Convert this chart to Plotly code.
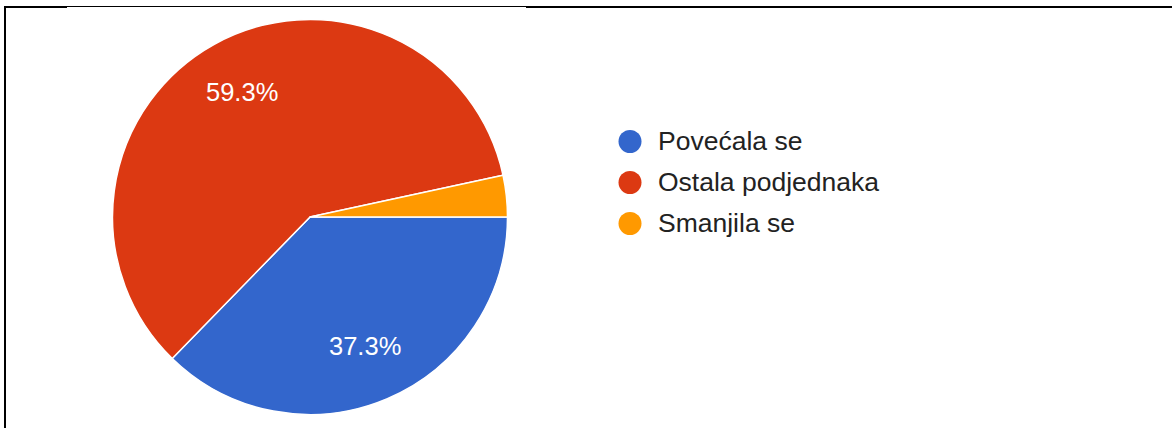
import math
import plotly.graph_objects as go

labels = ["Povećala se", "Ostala podjednaka", "Smanjila se"]
counts = [22, 35, 2]
colors = ["#3366CC", "#DC3912", "#FF9900"]
min_label_share = 0.05  # slices smaller than this get no percentage label

W, H = 1172, 428
CX, CY, R = 310, 217, 197.5
FONT = "Arial, Liberation Sans"


def px(x):
    return x / W


def py(y):
    return 1 - y / H


fig = go.Figure()
fig.add_trace(go.Pie(
    labels=labels,
    values=counts,
    marker=dict(colors=colors, line=dict(color="white", width=1.5)),
    sort=False,
    direction="clockwise",
    rotation=90,
    textinfo="none",
    showlegend=False,
    hoverinfo="label+percent",
    domain=dict(x=[px(CX - R), px(CX + R)], y=[py(CY + R), py(CY - R)]),
))

shapes = []
annotations = []

# percentage labels placed along each slice's bisector (computed from the data)
total = sum(counts)
cum = 0
for v in counts:
    share = v / total
    mid = (cum + v / 2) / total
    cum += v
    if share < min_label_share:
        continue
    ang = math.radians(mid * 360)  # clockwise from 3 o'clock
    lx = CX + 0.715 * R * math.cos(ang)
    ly = CY + 0.715 * R * math.sin(ang) - 1
    annotations.append(dict(text=f"{share * 100:.1f}%", xref="paper", yref="paper",
                            x=px(lx), y=py(ly), xanchor="center", yanchor="middle",
                            showarrow=False,
                            font=dict(size=25.5, color="white", family=FONT)))

# custom legend with round markers
legend_x, legend_y0, legend_step = 630, 141.5, 41
for i, (lab, col) in enumerate(zip(labels, colors)):
    cy = legend_y0 + i * legend_step
    r = 11.5
    shapes.append(dict(type="circle", xref="paper", yref="paper",
                       x0=px(legend_x - r), x1=px(legend_x + r),
                       y0=py(cy + r), y1=py(cy - r),
                       fillcolor=col, line=dict(width=0)))
    annotations.append(dict(text=lab, xref="paper", yref="paper",
                            x=px(656), y=py(cy - 0.5), xanchor="left", yanchor="middle",
                            showarrow=False,
                            font=dict(size=26.5, color="#222222", family=FONT)))

# frame lines
for (x0, y0, x1, y1) in [(4, 6, 67, 8), (67, 6, 526, 7), (526, 6, 1172, 8), (4, 6, 6, 428)]:
    shapes.append(dict(type="rect", xref="paper", yref="paper",
                       x0=px(x0), x1=px(x1), y0=py(y1), y1=py(y0),
                       fillcolor="black", line=dict(width=0)))

fig.update_layout(
    width=W, height=H, autosize=False,
    margin=dict(l=0, r=0, t=0, b=0),
    paper_bgcolor="white", plot_bgcolor="white",
    shapes=shapes, annotations=annotations,
)

fig.write_html("out.html", config={"displayModeBar": False},
               post_script="document.body.style.margin='0';")
